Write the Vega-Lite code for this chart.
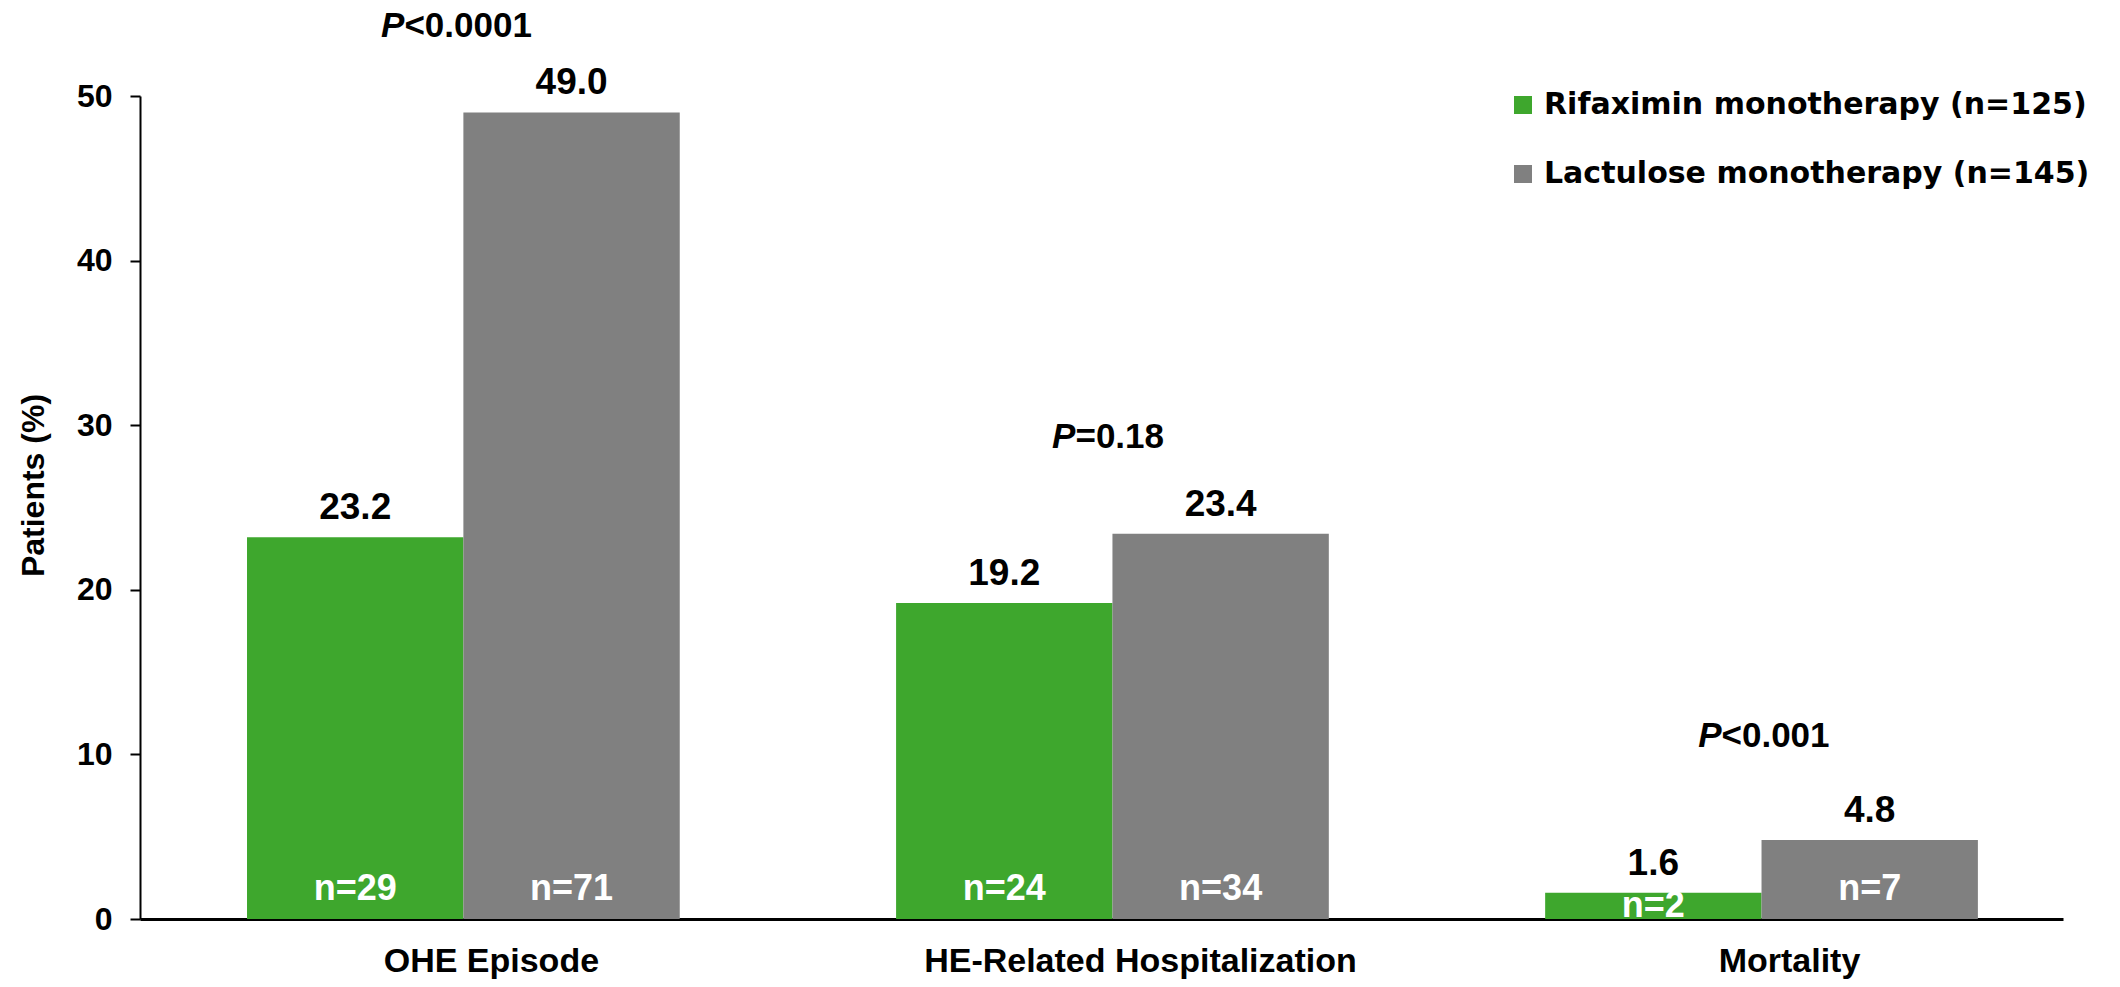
{
  "$schema": "https://vega.github.io/schema/vega-lite/v6.json",
  "autosize": "none",
  "width": 1923,
  "height": 823,
  "padding": {"left": 140, "top": 96, "right": 57, "bottom": 68},
  "background": "white",
  "config": {
    "view": {"stroke": null},
    "font": "Liberation Sans",
    "text": {"font": "Liberation Sans", "fontWeight": "bold"}
  },
  "datasets": {
    "bars": [
      {"cat": "OHE Episode", "group": "Rifaximin monotherapy (n=125)", "pct": 23.2, "n": "n=29"},
      {"cat": "OHE Episode", "group": "Lactulose monotherapy (n=145)", "pct": 49.0, "n": "n=71"},
      {"cat": "HE-Related Hospitalization", "group": "Rifaximin monotherapy (n=125)", "pct": 19.2, "n": "n=24"},
      {"cat": "HE-Related Hospitalization", "group": "Lactulose monotherapy (n=145)", "pct": 23.4, "n": "n=34"},
      {"cat": "Mortality", "group": "Rifaximin monotherapy (n=125)", "pct": 1.6, "n": "n=2"},
      {"cat": "Mortality", "group": "Lactulose monotherapy (n=145)", "pct": 4.8, "n": "n=7"}
    ],
    "pvals": [
      {"cat": "OHE Episode", "rest": "<0.0001", "top": 49.0},
      {"cat": "HE-Related Hospitalization", "rest": "=0.18", "top": 23.4},
      {"cat": "Mortality", "rest": "<0.001", "top": 4.8}
    ]
  },
  "encoding": {
    "x": {
      "field": "cat", "type": "nominal",
      "sort": ["OHE Episode", "HE-Related Hospitalization", "Mortality"],
      "scale": {"paddingInner": 0.3333, "paddingOuter": 0.148, "align": 0.557},
      "axis": {
        "title": null, "labelAngle": 0, "ticks": false,
        "domainColor": "black", "domainWidth": 3,
        "labelFont": "Liberation Sans", "labelFontSize": 34, "labelFontWeight": "bold",
        "labelColor": "black", "labelPadding": 25, "labelOffset": 28, "labelLimit": 0
      }
    }
  },
  "layer": [
    {
      "data": {"name": "bars"},
      "mark": {"type": "bar"},
      "encoding": {
        "xOffset": {"field": "group", "type": "nominal", "sort": ["Rifaximin monotherapy (n=125)", "Lactulose monotherapy (n=145)"], "scale": {"paddingInner": 0, "paddingOuter": 0}},
        "y": {
          "field": "pct", "type": "quantitative",
          "scale": {"domain": [0, 50], "nice": false},
          "axis": {
            "values": [0, 10, 20, 30, 40, 50], "grid": false,
            "domainColor": "black", "domainWidth": 2,
            "tickColor": "black", "tickSize": 10, "tickWidth": 2,
            "labelFont": "Liberation Sans", "labelFontSize": 32, "labelFontWeight": "bold",
            "labelColor": "black", "labelPadding": 18,
            "title": "Patients (%)", "titleFont": "Liberation Sans", "titleFontSize": 32,
            "titleFontWeight": "bold", "titleColor": "black", "titlePadding": 26, "titleY": 389
          }
        },
        "color": {
          "field": "group", "type": "nominal",
          "sort": ["Rifaximin monotherapy (n=125)", "Lactulose monotherapy (n=145)"],
          "scale": {"domain": ["Rifaximin monotherapy (n=125)", "Lactulose monotherapy (n=145)"], "range": ["#3EA72D", "#808080"]},
          "legend": {
            "title": null, "orient": "none", "legendX": 1368, "legendY": -6,
            "labelFont": "DejaVu Sans", "labelFontSize": 30, "labelFontWeight": "bold",
            "labelColor": "black", "labelLimit": 1000, "labelOffset": 6,
            "symbolType": "square", "symbolSize": 324, "symbolStrokeWidth": 0,
            "rowPadding": 39
          }
        }
      }
    },
    {
      "data": {"name": "bars"},
      "mark": {"type": "text", "baseline": "alphabetic", "dy": -18, "fontSize": 37, "color": "black"},
      "encoding": {
        "xOffset": {"field": "group", "type": "nominal", "sort": ["Rifaximin monotherapy (n=125)", "Lactulose monotherapy (n=145)"]},
        "y": {"field": "pct", "type": "quantitative"},
        "text": {"field": "pct", "type": "quantitative", "format": ".1f"}
      }
    },
    {
      "data": {"name": "bars"},
      "transform": [{"filter": "datum.pct > 3"}],
      "mark": {"type": "text", "baseline": "alphabetic", "dy": -19, "fontSize": 36, "color": "white"},
      "encoding": {
        "xOffset": {"field": "group", "type": "nominal", "sort": ["Rifaximin monotherapy (n=125)", "Lactulose monotherapy (n=145)"]},
        "y": {"datum": 0, "type": "quantitative"},
        "text": {"field": "n", "type": "nominal"}
      }
    },
    {
      "data": {"name": "bars"},
      "transform": [{"filter": "datum.pct <= 3"}],
      "mark": {"type": "text", "baseline": "alphabetic", "dy": -2, "fontSize": 36, "color": "white"},
      "encoding": {
        "xOffset": {"field": "group", "type": "nominal", "sort": ["Rifaximin monotherapy (n=125)", "Lactulose monotherapy (n=145)"]},
        "y": {"datum": 0, "type": "quantitative"},
        "text": {"field": "n", "type": "nominal"}
      }
    },
    {
      "data": {"name": "pvals"},
      "transform": [{"filter": "datum.cat == 'OHE Episode'"}],
      "mark": {"type": "text", "align": "right", "baseline": "middle", "dx": -59, "dy": -86, "fontSize": 35, "fontStyle": "italic", "color": "black"},
      "encoding": {"y": {"field": "top", "type": "quantitative"}, "text": {"value": "P"}}
    },
    {
      "data": {"name": "pvals"},
      "transform": [{"filter": "datum.cat == 'OHE Episode'"}],
      "mark": {"type": "text", "align": "left", "baseline": "middle", "dx": -59, "dy": -86, "fontSize": 35, "color": "black"},
      "encoding": {"y": {"field": "top", "type": "quantitative"}, "text": {"field": "rest", "type": "nominal"}}
    },
    {
      "data": {"name": "pvals"},
      "transform": [{"filter": "datum.cat == 'HE-Related Hospitalization'"}],
      "mark": {"type": "text", "align": "right", "baseline": "middle", "dx": -37, "dy": -97, "fontSize": 35, "fontStyle": "italic", "color": "black"},
      "encoding": {"y": {"field": "top", "type": "quantitative"}, "text": {"value": "P"}}
    },
    {
      "data": {"name": "pvals"},
      "transform": [{"filter": "datum.cat == 'HE-Related Hospitalization'"}],
      "mark": {"type": "text", "align": "left", "baseline": "middle", "dx": -37, "dy": -97, "fontSize": 35, "color": "black"},
      "encoding": {"y": {"field": "top", "type": "quantitative"}, "text": {"field": "rest", "type": "nominal"}}
    },
    {
      "data": {"name": "pvals"},
      "transform": [{"filter": "datum.cat == 'Mortality'"}],
      "mark": {"type": "text", "align": "right", "baseline": "middle", "dx": -40, "dy": -104, "fontSize": 35, "fontStyle": "italic", "color": "black"},
      "encoding": {"y": {"field": "top", "type": "quantitative"}, "text": {"value": "P"}}
    },
    {
      "data": {"name": "pvals"},
      "transform": [{"filter": "datum.cat == 'Mortality'"}],
      "mark": {"type": "text", "align": "left", "baseline": "middle", "dx": -40, "dy": -104, "fontSize": 35, "color": "black"},
      "encoding": {"y": {"field": "top", "type": "quantitative"}, "text": {"field": "rest", "type": "nominal"}}
    }
  ]
}
